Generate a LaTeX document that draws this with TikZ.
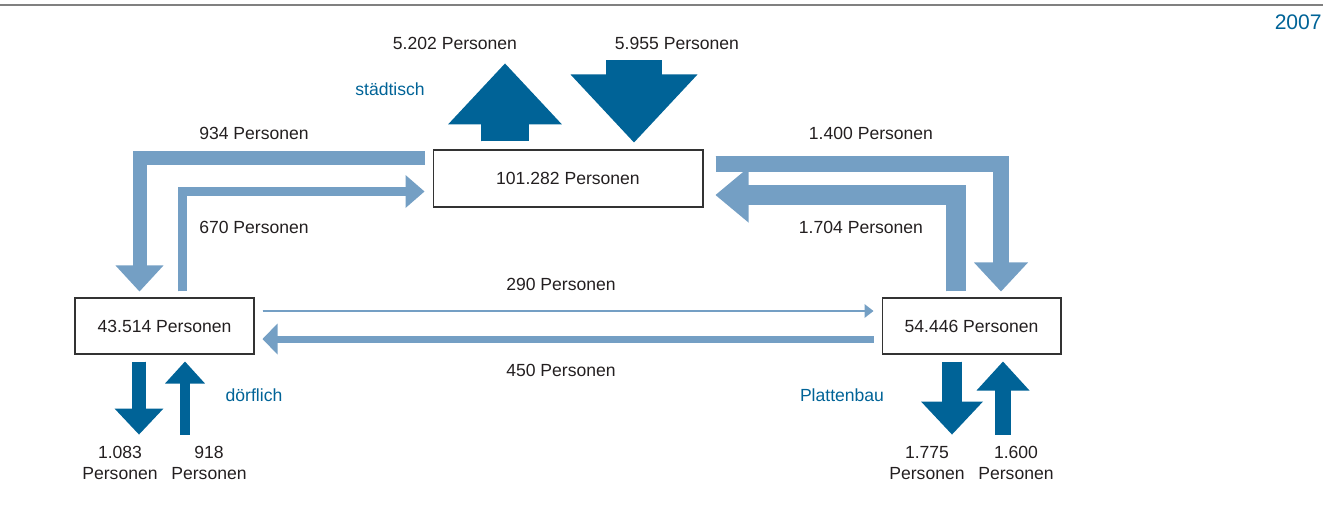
\documentclass[tikz,border=0pt]{standalone}
\usepackage{fontspec}
\setmainfont{Liberation Sans}
\usetikzlibrary{arrows.meta,calc}

\definecolor{darkflow}{RGB}{0,99,151}
\definecolor{lightflow}{RGB}{116,159,196}
\definecolor{txt}{RGB}{35,31,32}

\begin{document}
\begin{tikzpicture}[x=0.02cm, y=-0.02cm, font=\fontsize{10}{12}\selectfont, text=txt,
  box/.style={draw=black!80, line width=0.6pt, minimum height=1.12cm, inner sep=0pt},
  kind/.style={text=darkflow},
  light/.style={draw=lightflow},
  dark/.style={draw=darkflow},
  flowhead/.style 2 args={-{Triangle[width=#1, length=#2, line width=0pt]},
    postaction={draw, -, shorten >=#2-0.1cm}}]
  \useasboundingbox (0,0) rectangle (1339,508);
  \draw[black!50, line width=0.6pt] (0,5) -- (1323,5);
  \node[kind, anchor=east, inner sep=0pt, font=\fontsize{12}{14}\selectfont] (year) at (1322,22) {2007};

  % the three groups
  \node[box, minimum width=5.4cm, minimum height=1.14cm] (mid) at (568,178.5) {101.282 Personen};
  \node[box, minimum width=3.58cm] (left) at (164.5,326) {43.514 Personen};
  \node[box, minimum width=3.58cm] (right) at (971.5,326) {54.446 Personen};

  \node[kind] (city) at (390,89) {städtisch};
  \node[kind] (village) at (254,395) {dörflich};
  \node[kind] (slab) at (842,395) {Plattenbau};

  % moves between the groups
  \draw[light, line width=0.28cm, flowhead={0.96cm}{0.52cm}]
    ($(mid.west)+(-8,-21)$) -| ($(left.north)+(-25,-6)$);
  \draw[light, line width=0.18cm, flowhead={0.66cm}{0.38cm}]
    ($(left.north)+(17.5,-6)$) |- ($(mid.west)+(-8,13)$);
  \draw[light, line width=0.32cm, flowhead={1.08cm}{0.58cm}]
    ($(mid.east)+(12,-14.5)$) -| ($(right.north)+(29.5,-6)$);
  \draw[light, line width=0.4cm, flowhead={1.1cm}{0.66cm}]
    ($(right.north)+(-15.5,-6)$) |- ($(mid.east)+(12,16.5)$);
  \draw[light, line width=0.05cm, flowhead={0.28cm}{0.18cm}]
    ($(left.east)+(8,-15)$) -- ($(right.west)+(-8,-15)$);
  \draw[light, line width=0.14cm, flowhead={0.62cm}{0.3cm}]
    ($(right.west)+(-8,13)$) -- ($(left.east)+(8,13)$);

  \node (m934) at (254,133) {934 Personen};
  \node (m670) at (254,227) {670 Personen};
  \node (m1400) at (871,133) {1.400 Personen};
  \node (m1704) at (861,227) {1.704 Personen};
  \node (m290) at (561,284) {290 Personen};
  \node (m450) at (561,370) {450 Personen};

  % moves in and out
  \coordinate (outmid) at ($(mid.north)+(-63,-86)$);
  \coordinate (inmid) at ($(mid.north)+(66,-89)$);
  \coordinate (outleft) at ($(left.south)+(-25.5,80)$);
  \coordinate (inleft) at ($(left.south)+(20.5,80)$);
  \coordinate (outright) at ($(right.south)+(-19.5,80)$);
  \coordinate (inright) at ($(right.south)+(31.5,80)$);

  \draw[dark, line width=0.96cm, flowhead={2.28cm}{1.22cm}]
    ($(mid.north)+(-63,-8)$) -- (outmid);
  \draw[dark, line width=1.12cm, flowhead={2.54cm}{1.36cm}]
    (inmid) -- ($(mid.north)+(66,-7)$);
  \draw[dark, line width=0.28cm, flowhead={0.98cm}{0.52cm}]
    ($(left.south)+(-25.5,7)$) -- (outleft);
  \draw[dark, line width=0.2cm, flowhead={0.8cm}{0.44cm}]
    (inleft) -- ($(left.south)+(20.5,7)$);
  \draw[dark, line width=0.4cm, flowhead={1.24cm}{0.66cm}]
    ($(right.south)+(-19.5,7)$) -- (outright);
  \draw[dark, line width=0.32cm, flowhead={1.06cm}{0.58cm}]
    (inright) -- ($(right.south)+(31.5,7)$);

  \node (o5202) at (455,43) {5.202 Personen};
  \node (i5955) at (677,43) {5.955 Personen};
  \node[align=center] (o1083) at (120,463) {1.083\\Personen};
  \node[align=center] (i918) at (209,463) {918\\Personen};
  \node[align=center] (o1775) at (927,463) {1.775\\Personen};
  \node[align=center] (i1600) at (1016,463) {1.600\\Personen};
\end{tikzpicture}
\end{document}
